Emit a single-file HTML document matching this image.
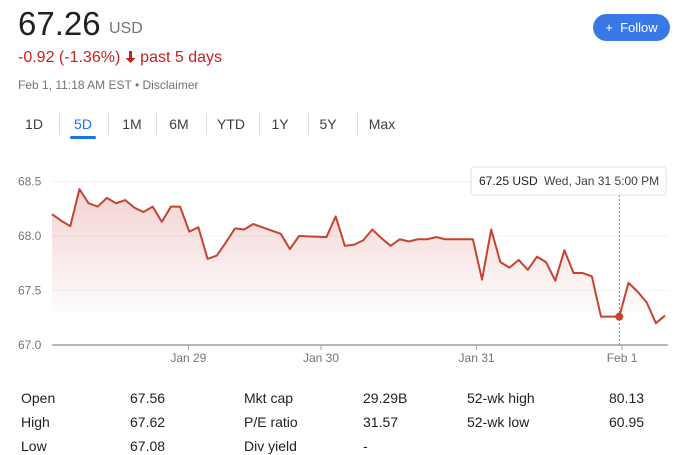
<!DOCTYPE html>
<html><head><meta charset="utf-8"><style>
body{margin:0;width:692px;height:455px;background:#fff;font-family:"Liberation Sans",Arial,sans-serif;position:relative;overflow:hidden;color:#202124}
.a{position:absolute;white-space:nowrap}
.tab{position:absolute;top:116px;font-size:14px;color:#3c4043;transform:translateX(-50%)}
.sep{position:absolute;top:113px;width:1px;height:22px;background:#dadce0}
.st{position:absolute;font-size:14px;color:#202124}
</style></head><body>
<div class="a" style="left:18px;top:5px;font-size:33px;">67.26</div>
<div class="a" style="left:109px;top:20px;font-size:16px;color:#70757a">USD</div>
<div class="a" style="left:18px;top:49px;font-size:16px;color:#c5221f">-0.92 (-1.36%) <svg width="11" height="12" viewBox="0 0 11 12" style="vertical-align:-1px"><path d="M4 0h3v7h3.5L5.5 12 0.5 7H4z" fill="#c5221f"/></svg> past 5 days</div>
<div class="a" style="left:18px;top:78px;font-size:12px;color:#70757a">Feb 1, 11:18 AM EST • Disclaimer</div>
<div class="a" style="left:593px;top:14px;width:77px;height:27px;border-radius:14px;background:#3b78e7;color:#fff;font-size:13px;line-height:27px;text-align:center">+&nbsp; Follow</div>
<div class="tab" style="left:34px">1D</div>
<div class="tab" style="left:83px;color:#1a73e8">5D</div>
<div class="a" style="left:70px;top:136px;width:26px;height:3px;border-radius:2px;background:#1a73e8"></div>
<div class="tab" style="left:132px">1M</div>
<div class="tab" style="left:179px">6M</div>
<div class="tab" style="left:231px">YTD</div>
<div class="tab" style="left:280px">1Y</div>
<div class="tab" style="left:328px">5Y</div>
<div class="tab" style="left:382px">Max</div>
<div class="sep" style="left:59px"></div><div class="sep" style="left:108px"></div><div class="sep" style="left:156px"></div><div class="sep" style="left:206px"></div><div class="sep" style="left:259px"></div><div class="sep" style="left:308px"></div><div class="sep" style="left:357px"></div>
<svg id="chart" width="692" height="380" style="position:absolute;left:0;top:0" xmlns="http://www.w3.org/2000/svg">
<defs><linearGradient id="g" x1="0" y1="0" x2="0" y2="1"><stop offset="0" stop-color="#c5221f" stop-opacity="0.2"/><stop offset="1" stop-color="#c5221f" stop-opacity="0"/></linearGradient></defs>
</svg>
<div class="st" style="left:21px;top:390px">Open</div>
<div class="st" style="left:130px;top:390px">67.56</div>
<div class="st" style="left:21px;top:414px">High</div>
<div class="st" style="left:130px;top:414px">67.62</div>
<div class="st" style="left:21px;top:438px">Low</div>
<div class="st" style="left:130px;top:438px">67.08</div>
<div class="st" style="left:244px;top:390px">Mkt cap</div>
<div class="st" style="left:363px;top:390px">29.29B</div>
<div class="st" style="left:244px;top:414px">P/E ratio</div>
<div class="st" style="left:363px;top:414px">31.57</div>
<div class="st" style="left:244px;top:438px">Div yield</div>
<div class="st" style="left:363px;top:438px">-</div>
<div class="st" style="left:467px;top:390px">52-wk high</div>
<div class="st" style="left:609px;top:390px">80.13</div>
<div class="st" style="left:467px;top:414px">52-wk low</div>
<div class="st" style="left:609px;top:414px">60.95</div>
<script>
const slots=[0,1,2,3,4,5,6,7,8,9,10,11,12,13,14,15,16,17,18,19,20,21,22,25,26,27,30,31,32,33,34,35,36,37,38,39,40,41,42,43,46,47,48,49,50,51,52,53,54,55,56,57,58,59,60,62,63,64,65,66,67];
const prices=[68.20,68.14,68.09,68.43,68.30,68.27,68.35,68.30,68.33,68.26,68.22,68.27,68.13,68.27,68.27,68.04,68.08,67.79,67.82,67.94,68.07,68.06,68.11,68.02,67.88,68.00,67.99,68.18,67.91,67.92,67.96,68.06,67.98,67.91,67.97,67.95,67.97,67.97,67.99,67.97,67.97,67.60,68.06,67.76,67.71,67.78,67.69,67.81,67.76,67.59,67.87,67.66,67.66,67.63,67.26,67.26,67.57,67.49,67.39,67.20,67.27];
const yTicks=[67.0,67.5,68.0,68.5];
const xTickLabels=["Jan 29","Jan 30","Jan 31","Feb 1"];
const xTickSlots=[14.9,29.4,46.4,62.3];
const hoverIndex=55;
const svg=document.getElementById('chart');const NS="http://www.w3.org/2000/svg";
const X=s=>52+s*9.15;const Y=v=>345-(v-67)*109;
function mk(t,a){const e=document.createElementNS(NS,t);for(const k in a)e.setAttribute(k,a[k]);svg.appendChild(e);return e;}
yTicks.forEach(v=>{
 if(v>67){const l=mk('line',{x1:52,x2:668,y1:Y(v),y2:Y(v),stroke:'#f1f3f4'});
 
 }
 const t=mk('text',{x:18,y:Y(v)+4,'font-size':12,fill:'#70757a'});t.textContent=v.toFixed(1);
 
 
});
let d=slots.map((s,i)=>(i?'L':'M')+X(s)+','+Y(prices[i])).join('');
const area=mk('path',{d:d+'L'+X(slots[slots.length-1])+','+Y(67.3)+'L'+X(0)+','+Y(67.3)+'Z',fill:'url(#g)'});


const ax=mk('line',{x1:52,x2:668,y1:345,y2:345,stroke:'#9aa0a6','stroke-width':1.5});


xTickSlots.forEach((s,i)=>{
 mk('line',{x1:X(s),x2:X(s),y1:345,y2:350,stroke:'#9aa0a6'});
 const t=mk('text',{x:X(s),y:362,'font-size':12,fill:'#70757a','text-anchor':'middle'});t.textContent=xTickLabels[i];
 
 
});
const hx=X(slots[hoverIndex]),hy=Y(prices[hoverIndex]);
const vl=mk('line',{x1:hx,x2:hx,y1:195,y2:345,stroke:'#80868b','stroke-dasharray':'2,2'});


const ln=mk('path',{d:d,fill:'none',stroke:'#c5432f','stroke-width':2,'stroke-linejoin':'round'});


const dot=mk('circle',{cx:hx,cy:hy,r:4,fill:'#c5432f'});


const bx=mk('rect',{x:471,y:167,width:195,height:28,rx:3,fill:'#fff',stroke:'#e0e0e0'});


const t1=mk('text',{x:479,y:185,'font-size':12,fill:'#202124'});t1.textContent='67.25 USD';


const t2=mk('text',{x:544,y:185,'font-size':12,fill:'#3c4043'});t2.textContent='Wed, Jan 31 5:00 PM';


</script>
</body></html>
